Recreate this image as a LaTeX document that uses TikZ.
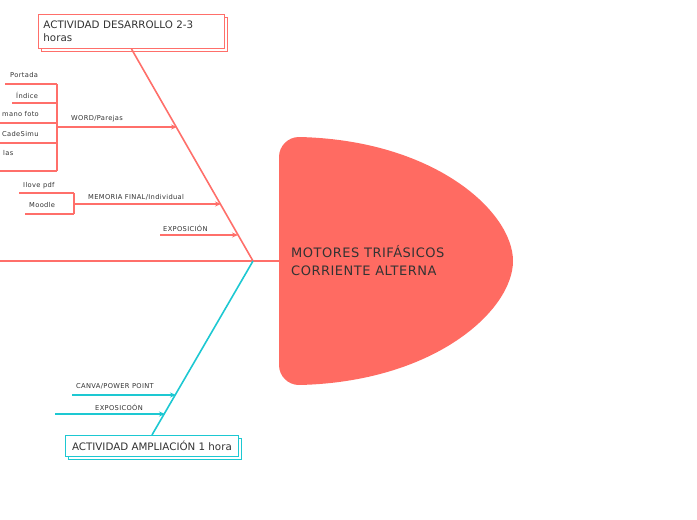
\documentclass[tikz,border=0pt]{standalone}
\usepackage{fontspec}
\setmainfont{DejaVu Sans}
\newfontfamily\smallwide[LetterSpace=5]{DejaVu Sans}
\newfontfamily\headwide[LetterSpace=4]{DejaVu Sans}
\usepackage{tikz}
\usetikzlibrary{positioning,arrows.meta,calc,shadows}
\definecolor{mmcoral}{HTML}{FF6B62}
\definecolor{mmline}{HTML}{FF6F6A}
\definecolor{mmcyan}{HTML}{1DC8D2}
\definecolor{mmtext}{HTML}{333333}

\begin{document}
\begin{tikzpicture}[x=1pt, y=-1pt,
  font=\fontsize{6.5}{8}\selectfont, text=mmtext,
  bone/.style={line width=1.6pt},
  rib/.style={-{Stealth[length=6pt, width=5pt]}, line width=1.1pt},
  twig/.style={draw=mmline, line width=1.1pt},
  lbl/.style={anchor=west, inner sep=0pt, font=\smallwide\fontsize{6.7}{8}\selectfont},
  sub/.style={anchor=west, inner sep=0pt, font=\smallwide\fontsize{6.7}{8}\selectfont},
  card/.style={draw, fill=white, line width=0.9pt, align=left, inner sep=5pt,
    font=\fontsize{10.3}{12.5}\selectfont,
    copy shadow={shadow xshift=2.5pt, shadow yshift=-2.5pt, draw, fill=white, line width=0.9pt}}
]
\useasboundingbox (0,0) rectangle (697,520);
% ---------- head ----------
\fill[mmcoral] (299,137) .. controls (435,140) and (513,212) .. (513,261)
  .. controls (513,310) and (435,382) .. (299,385)
  .. controls (288,385) and (279,376) .. (279,365) -- (279,157)
  .. controls (279,146) and (288,137) .. (299,137);
\node[anchor=west, align=left, inner sep=0pt, font=\headwide\fontsize{13}{18}\selectfont] (topic) at (291,261) {MOTORES TRIFÁSICOS\\CORRIENTE ALTERNA};
% ---------- spine and bones ----------
\coordinate (junc) at (253,261);
\coordinate (tail) at (0,261);
\draw[mmline, bone] (tail) -- (junc) -- (topic.west -| 279,0);
\node[card, draw=mmline, anchor=north west, text width=176pt, minimum height=34pt] (dev) at (38,14) {ACTIVIDAD DESARROLLO 2-3\\horas};
\node[card, draw=mmcyan, anchor=north west, inner sep=3pt, minimum width=173pt, minimum height=21pt] (amp) at (65,435) {ACTIVIDAD AMPLIACIÓN 1 hora};
\draw[mmline, bone] (junc) -- (dev.south);
\draw[mmcyan, bone] (junc) -- (amp.north);
% ---------- upper ribs ----------
\coordinate (wj) at (57,127);
\coordinate (wtip) at (177,127);
\coordinate (mj) at (74,204);
\coordinate (mtip) at (221,204);
\coordinate (xs) at (160,235);
\coordinate (xtip) at (238,235);
\draw[mmline, rib] (wj) -- (wtip);
\draw[mmline, rib] (mj) -- (mtip);
\draw[mmline, rib] (xs) -- (xtip);
\node[lbl] (word) at (71,119) {WORD/Parejas};
\node[lbl] (mem) at (88,197) {MEMORIA FINAL/Individual};
\node[lbl] (expo) at (163,228) {EXPOSICIÓN};
% word sub-items
\node[sub] (portada) at (10,75) {Portada};
\node[sub] (indice) at (16,95) {Índice};
\node[sub] (mano) at (2,114) {mano foto};
\node[sub] (cade) at (2,134) {CadeSimu};
\node[sub] (las) at (3,153) {las};
\coordinate (portadaend) at (5,84);
\coordinate (indiceend) at (12,103);
\coordinate (manoend) at (0,123);
\coordinate (cadeend) at (0,143);
\coordinate (lasend) at (0,171);
\foreach \e in {portadaend, indiceend, manoend, cadeend, lasend}
  \draw[twig] (\e) -- (\e -| wj);
\draw[twig] (portadaend -| wj) -- (lasend -| wj);
% memoria sub-items
\node[sub] (ilove) at (23,186) {Ilove pdf};
\node[sub] (moodle) at (29,205) {Moodle};
\coordinate (iloveend) at (19,193);
\coordinate (moodleend) at (25,214);
\foreach \e in {iloveend, moodleend}
  \draw[twig] (\e) -- (\e -| mj);
\draw[twig] (iloveend -| mj) -- (moodleend -| mj);
% ---------- lower ribs ----------
\coordinate (cs) at (72,395);
\coordinate (ctip) at (176,395);
\coordinate (es) at (55,414);
\coordinate (etip) at (165,414);
\draw[mmcyan, rib] (cs) -- (ctip);
\draw[mmcyan, rib] (es) -- (etip);
\node[lbl] (canva) at (76,386) {CANVA/POWER POINT};
\node[lbl] (expo2) at (95,407) {EXPOSICOÓN};
\end{tikzpicture}
\end{document}
